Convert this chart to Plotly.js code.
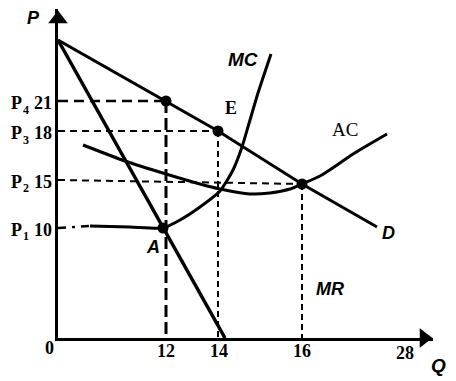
<!DOCTYPE html>
<html>
<head>
<meta charset="utf-8">
<script src="https://cdn.plot.ly/plotly-3.0.1.min.js"></script>
<style>html,body{margin:0;padding:0;background:#fff;}#chart{width:456px;height:381px;}</style>
</head>
<body>
<div id="chart"></div>
<script>
// Schematic diagram units (axes in the reference are not to scale)
const qTickPos = [10.8, 16.1, 24.4, 34.7];
const qTickText = ['12', '14', '16', '28'];
const pTickPos = [23.7, 20.7, 15.8, 11.0];
const pTickText = ['21', '18', '15', '10'];
const pTickSub = ['4', '3', '2', '1'];

// Demand curve D
const dX = [0, 10.8, 16.0, 24.4, 31.9];
const dY = [29.8, 23.7, 20.7, 15.4, 11.1];
// Marginal revenue MR
const mrX = [0, 16.7];
const mrY = [29.8, 0];
// Marginal cost MC
const mcX = [3.2, 7.2, 10.5, 12.2, 14.2, 16.2, 17.5, 18.4, 19.2, 20.0, 21.3];
const mcY = [11.2, 11.1, 11.0, 11.8, 13.1, 14.7, 16.8, 19.1, 21.8, 24.5, 28.4];
// Average cost AC
const acX = [2.5, 6.7, 10.8, 14.2, 16.2, 19.2, 21.2, 23.2, 24.4, 26.2, 27.9, 29.5, 32.9];
const acY = [19.3, 17.7, 16.4, 15.4, 14.9, 14.4, 14.5, 14.9, 15.4, 16.2, 17.3, 18.4, 20.4];
// Marked points: P4, E, tangency, A
const ptX = [10.8, 16.0, 24.4, 10.5];
const ptY = [23.7, 20.7, 15.4, 11.0];
const mcStartX = 3.2;

const X_MAX = 37.5, Y_MAX = 32.9;
const serif = 'Liberation Serif, Times New Roman, serif';
const sans = 'Liberation Sans, Arial, sans-serif';

const traces = [];
function line(x, y, w, dash, shape) {
  traces.push({x: x, y: y, mode: 'lines', type: 'scatter', cliponaxis: false,
    line: {color: 'black', width: w, dash: dash || 'solid', shape: shape || 'linear', smoothing: 0.6},
    hoverinfo: 'skip', showlegend: false});
}
// guide lines
line([0, ptX[0]], [pTickPos[0], ptY[0]], 2.5, '10px,6px');
line([ptX[0], ptX[0]], [ptY[0], 0], 3, '12px,5px');
line([0, ptX[1]], [pTickPos[1], ptY[1]], 2, '7px,5px');
line([ptX[1], ptX[1]], [ptY[1], 0], 2, '6px,4px');
line([0, ptX[2]], [pTickPos[2], ptY[2]], 2, '7px,5px');
line([ptX[2], ptX[2]], [ptY[2], 0], 2, '6px,4px');
line([0, mcStartX], [pTickPos[3], mcY[0]], 2.5, '8px,6px,3px,6px');
// curves
line(dX, dY, 3);
line(mrX, mrY, 3.5);
line(mcX, mcY, 3, 'solid', 'spline');
line(acX, acY, 3, 'solid', 'spline');
// points
traces.push({x: ptX, y: ptY, mode: 'markers', type: 'scatter', cliponaxis: false,
  marker: {color: 'black', size: 11}, hoverinfo: 'skip', showlegend: false});
// axis arrowheads
traces.push({x: [0], y: [31.9], mode: 'markers', type: 'scatter', cliponaxis: false,
  marker: {symbol: 'triangle-up', color: 'black', size: 17}, hoverinfo: 'skip', showlegend: false});
traces.push({x: [36.6], y: [0], mode: 'markers', type: 'scatter', cliponaxis: false,
  marker: {symbol: 'triangle-right', color: 'black', size: 17}, hoverinfo: 'skip', showlegend: false});

const ann = [];
function txt(x, y, t, font, size, italic, xanchor, bold) {
  ann.push({x: x / X_MAX, y: y / Y_MAX, xref: 'paper', yref: 'paper',
    text: t, showarrow: false,
    xanchor: xanchor || 'center', yanchor: 'middle',
    font: {family: font, size: size, color: 'black', style: italic ? 'italic' : 'normal',
      weight: bold === false ? 'normal' : 'bold'}});
}
for (let i = 0; i < pTickPos.length; i++) {
  txt(-0.45, pTickPos[i] - 0.2, pTickText[i], serif, 18, false, 'right');
  txt(-3.45, pTickPos[i] - 0.2, 'P', serif, 18, false, 'right');
  txt(-3.25, pTickPos[i] - 0.85, pTickSub[i], serif, 12, false, 'center');
}
const qTickY = [-1.3, -1.3, -1.3, -1.5];
for (let i = 0; i < qTickPos.length; i++) {
  txt(qTickPos[i], qTickY[i], qTickText[i], serif, 18, false);
}
txt(-0.9, -1.0, '0', serif, 18, false);
txt(-2.5, 32.0, 'P', sans, 18, true);
txt(38.0, -2.7, 'Q', sans, 19, true);
txt(18.5, 27.8, 'MC', sans, 19, true);
txt(17.3, 23.0, 'E', serif, 18, false);
txt(28.7, 20.9, 'AC', serif, 19, false, 'center', false);
txt(33.0, 10.5, 'D', sans, 18, true);
txt(27.2, 4.9, 'MR', sans, 18, true);
txt(9.5, 9.1, 'A', sans, 18, true);

const layout = {
  width: 456, height: 381,
  margin: {l: 58, r: 23, t: 9, b: 43},
  paper_bgcolor: 'white', plot_bgcolor: 'white',
  xaxis: {range: [0, X_MAX], showgrid: false, zeroline: false, showline: true, linecolor: 'black',
    linewidth: 3, showticklabels: false, ticks: '', fixedrange: true},
  yaxis: {range: [0, Y_MAX], showgrid: false, zeroline: false, showline: true, linecolor: 'black',
    linewidth: 3, showticklabels: false, ticks: '', fixedrange: true},
  annotations: ann,
  showlegend: false
};
Plotly.newPlot('chart', traces, layout, {staticPlot: true, displayModeBar: false});
</script>
</body>
</html>
